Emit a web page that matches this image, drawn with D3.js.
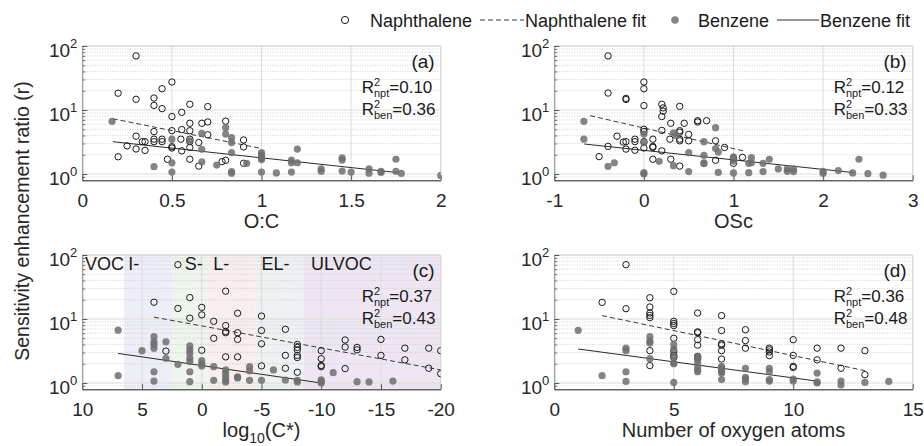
<!DOCTYPE html>
<html><head><meta charset="utf-8">
<script src="https://cdn.jsdelivr.net/npm/d3@7"></script>
<style>body{margin:0;background:#fff}</style>
</head><body><svg id="c" width="924" height="446"></svg>
<script>
// ---------------- DATA ----------------
const napOC = [[0.30,70],[0.20,18.3],[0.30,14.7],[0.445,21.5],[0.50,27.4],[0.40,15.4],[0.40,11.8],[0.445,10.5],[0.60,12.3],[0.70,11.3],[0.555,9.2],[0.50,7.9],[0.80,6.7],[0.60,6.2],[0.667,6.2],[0.70,6.5],[0.50,4.75],[0.555,4.95],[0.60,4.75],[0.40,4.6],[0.70,4.1],[0.30,3.9],[0.335,3.2],[0.35,3.2],[0.40,3.5],[0.40,3.2],[0.445,3.5],[0.445,3.2],[0.55,3.5],[0.60,3.5],[0.60,3.2],[0.65,3.1],[0.90,3.4],[0.90,2.65],[0.25,2.75],[0.30,2.46],[0.35,2.34],[0.50,2.67],[0.50,2.55],[0.60,2.6],[0.555,2.3],[0.20,1.86],[0.475,1.7],[0.60,1.7],[0.65,1.33],[0.78,1.56],[0.80,1.64],[0.90,1.47]];
const benOC = [[0.166,6.65],[0.40,1.3],[0.50,1.5],[0.50,1.07],[0.50,3.5],[0.60,3.3],[0.667,4.3],[0.667,2.43],[0.667,1.55],[0.75,1.38],[0.80,5.3],[0.80,4.2],[0.833,3.7],[0.833,3.1],[0.833,2.15],[0.833,1.09],[0.833,1.03],[0.917,1.47],[1.0,2.15],[1.0,2.0],[1.0,1.85],[1.0,1.75],[1.0,1.68],[1.0,1.07],[1.083,1.04],[1.167,1.65],[1.167,1.5],[1.167,1.07],[1.2,2.45],[1.2,1.5],[1.333,1.2],[1.333,1.1],[1.45,1.78],[1.45,1.65],[1.45,1.11],[1.5,1.07],[1.6,1.2],[1.6,1.03],[1.667,1.1],[1.667,1.06],[1.75,1.7],[1.75,1.1],[1.78,1.02],[2.0,0.95]];
const napOSc = [[-0.4,70],[-0.4,18.4],[-0.2,15.2],[-0.2,14.6],[0,27.4],[0,21.5],[0,11.7],[0.2,12.3],[0.215,10.8],[0.215,9.6],[0.2,7.9],[0.4,11.4],[0.6,6.8],[0.6,6.5],[0.7,6.8],[0.3,6.2],[0.45,6.2],[0.2,4.8],[0,5.0],[0,4.6],[0.4,4.75],[0.4,4.5],[0.5,4.15],[0.4,3.5],[0.4,3.3],[0.29,3.5],[0.5,3.3],[0.8,3.3],[-0.3,3.9],[-0.2,3.2],[-0.23,3.15],[-0.1,3.5],[-0.1,3.2],[0,3.2],[0.1,3.5],[0.1,2.7],[0.1,2.6],[0.2,2.3],[-0.4,2.7],[-0.2,2.45],[-0.1,2.35],[0,2.55],[0.9,2.6],[-0.5,1.87],[0.1,1.7],[0.3,1.7],[0.4,1.33],[0.8,1.64],[1.0,1.74],[1.0,1.47],[1.1,1.82]];
const benOSc = [[-0.67,6.65],[-0.67,3.5],[-0.4,1.32],[-0.33,1.5],[0,4.2],[0,3.1],[0,1.05],[0,1.0],[0.17,1.58],[0.33,1.35],[0.33,4.4],[0.36,4.0],[0.5,2.15],[0.5,1.09],[0.67,3.2],[0.67,1.95],[0.67,1.5],[0.67,1.45],[0.8,5.3],[0.8,2.5],[0.83,2.2],[0.83,1.06],[1.0,1.04],[1.0,1.86],[1.0,1.6],[1.17,1.47],[1.17,1.05],[1.2,1.8],[1.2,1.5],[1.33,1.47],[1.33,1.09],[1.4,1.7],[1.5,1.2],[1.6,1.2],[1.6,1.1],[1.67,1.2],[1.67,1.09],[2.0,1.1],[2.0,1.02],[2.17,1.13],[2.33,1.04],[2.4,1.7],[2.5,1.01],[2.67,0.96]];
const napLogC = [[2,70.6],[4,18.3],[2,14.6],[1,21.6],[0,15.2],[0,11.6],[1,10.3],[-1,9.2],[-2,27.2],[-2,7.9],[-2,6.4],[-2,6.1],[-3,12.3],[-3,6.1],[-3,4.8],[-5,11.1],[-5,6.6],[-5,4.1],[-7,6.9],[-1,5.0],[-2,2.56],[-3,2.56],[0,3.25],[3,3.15],[-5,1.85],[-7,2.7],[-7,1.7],[-8,4.0],[-8,3.6],[-8,3.3],[-8,2.7],[-8,2.5],[-8,1.47],[-10,3.2],[-10,2.4],[-10,1.88],[-10,1.8],[-12,4.7],[-12,3.65],[-12,1.68],[-13,3.6],[-13,3.3],[-15,4.8],[-15,2.7],[-17,3.5],[-17,2.3],[-19,3.5],[-19,1.7],[-20,3.2],[-20,1.4]];
const benLogC = [[7,6.7],[7,1.3],[5,3.2],[4,5.3],[4,4.4],[4,4.0],[4,3.5],[4,1.5],[4,1.07],[3,4.4],[3,2.43],[2,1.96],[1,3.8],[1,3.3],[1,2.9],[1,2.43],[1,2.15],[1,1.5],[1,1.05],[0,2.23],[0,2.0],[0,1.85],[-1,1.8],[-1,1.1],[-2,1.6],[-2,1.42],[-2,1.25],[-2,1.11],[-2,1.04],[-3,1.25],[-3,1.2],[-4,1.8],[-4,1.55],[-4,1.1],[-5,1.1],[-6,1.6],[-7,1.11],[-8,1.1],[-8,1.04],[-10,1.12],[-10,1.05],[-10,1.0],[-11,1.45],[-13,1.05],[-14,1.04],[-16,1.07]];
const napNO = [[3,70.6],[2,18.2],[3,14.5],[4,21.5],[4,15.4],[4,12.4],[4,11.4],[4,10.5],[5,27],[5,9.2],[5,8.5],[5,7.9],[5,5.0],[5,3.1],[5,2.7],[5,2.5],[4,3.2],[4,1.87],[6,12.4],[6,6.3],[6,6.1],[6,4.75],[6,3.9],[6,2.6],[6,2.45],[7,11.3],[7,6.6],[7,4.1],[7,3.9],[7,3.2],[7,2.37],[8,6.8],[8,4.6],[8,3.5],[9,3.5],[9,3.3],[9,3.05],[9,2.67],[10,4.75],[10,2.7],[10,1.82],[10,1.75],[11,3.5],[11,2.3],[12,3.5],[12,1.7],[13,3.2],[13,1.35]];
const benNO = [[1,6.65],[2,1.3],[3,3.5],[3,3.2],[3,1.5],[3,1.06],[4,5.3],[4,4.5],[4,4.2],[4,2.4],[5,4.0],[5,3.4],[5,2.6],[5,2.05],[5,2.0],[5,1.02],[6,2.6],[6,2.4],[6,2.1],[6,1.8],[6,1.6],[6,1.5],[7,1.82],[7,1.7],[7,1.6],[7,1.5],[7,1.43],[7,1.13],[8,1.7],[8,1.23],[8,1.15],[8,1.05],[9,1.7],[9,1.5],[9,1.13],[9,1.07],[10,1.15],[10,1.07],[11,1.43],[11,1.04],[11,1.0],[12,1.07],[12,0.93],[13,1.02],[14,1.06]];

// fit line end points [x0,x1],[y0,y1]
const napFitOC = [[0.17,1.0],[7.3,2.5]],   benFitOC = [[0.17,1.76],[3.2,1.05]];
const napFitOSc = [[-0.6,1.11],[8.15,2.3]], benFitOSc = [[-0.665,2.34],[2.94,1.05]];
const napFitLogC = [[4,-20],[10.7,1.6]],   benFitLogC = [[7,-10],[2.9,1.0]];
const napFitNO = [[2,13],[11.3,1.56]],     benFitNO = [[1,11],[3.4,1.07]];

const r2Npt = ["0.10","0.12","0.37","0.36"];
const r2Ben = ["0.36","0.33","0.43","0.48"];
const ticksOC = [0,0.5,1,1.5,2], ticksOSc = [-1,0,1,2,3], ticksLogC = [10,5,0,-5,-10,-15,-20], ticksNO = [0,5,10,15];
const yTicks = [1,10,100], yExp = ["0","1","2"];
const volNames = ["VOC","I-","S-","L-","EL-","ULVOC"];
const volFrom = [10,6.5,2.5,-0.5,-4.5,-8.5];
const volTo = [6.5,2.5,-0.5,-4.5,-8.5,-20];
const volLabelX = [9.78,6.15,1.42,-0.96,-5.0,-9.15];
const volColors = ["#ffffff","#edeef7","#edf5ec","#f8eeee","#eef1f2","#eee7f3"];
const legendNames = ["Naphthalene","Naphthalene fit","Benzene","Benzene fit"];

// ---------------- LAYOUT ----------------
const FONT = "'Liberation Sans', Arial, Helvetica, sans-serif";
const svg = d3.select("#c").attr("font-family", FONT);
const L1 = 82.3, R1 = 440.7, L2 = 554.3, R2 = 912.7;
const panels = [
  {tag:"(a)", nap:napOC, ben:benOC, nf:napFitOC, bf:benFitOC, dom:[0,2], ticks:ticksOC, l:L1, r:R1, t:46, title:"O:C", i:0},
  {tag:"(b)", nap:napOSc, ben:benOSc, nf:napFitOSc, bf:benFitOSc, dom:[-1,3], ticks:ticksOSc, l:L2, r:R2, t:46, title:"OSc", i:1},
  {tag:"(c)", nap:napLogC, ben:benLogC, nf:napFitLogC, bf:benFitLogC, dom:[10,-20], ticks:ticksLogC, l:L1, r:R1, t:255, title:"log10", i:2, bands:true},
  {tag:"(d)", nap:napNO, ben:benNO, nf:napFitNO, bf:benFitNO, dom:[0,15], ticks:ticksNO, l:L2, r:R2, t:255, title:"Number of oxygen atoms", i:3}
];
const minorVals = [];
[0.1,1,10].forEach(k=>{for(let m=2;m<=9;m++){const v=m*k; if(v>=0.8&&v<100) minorVals.push(v);}});

panels.forEach(p=>{
  const b = p.t + 64*Math.log10(100/0.8);
  const x = d3.scaleLinear().domain(p.dom).range([p.l,p.r]);
  const y = d3.scaleLog().domain([0.8,100]).range([b,p.t]);
  const g = svg.append("g");
  const cid = "clip"+p.i;
  svg.append("clipPath").attr("id",cid).append("rect").attr("x",p.l).attr("y",p.t).attr("width",p.r-p.l).attr("height",b-p.t);
  if(p.bands){
    volNames.forEach((n,j)=>{
      g.append("rect").attr("x",x(volFrom[j])).attr("y",p.t).attr("width",x(volTo[j])-x(volFrom[j])).attr("height",b-p.t).attr("fill",volColors[j]);
    });
  }
  // minor grid
  g.selectAll(".mg").data(minorVals).join("line").attr("x1",p.l).attr("x2",p.r)
    .attr("y1",d=>y(d)).attr("y2",d=>y(d)).attr("stroke","#c8c8c8").attr("stroke-width",0.8).attr("stroke-dasharray","1,1.5");
  // major grid
  g.selectAll(".hg").data(yTicks).join("line").attr("x1",p.l).attr("x2",p.r)
    .attr("y1",d=>y(d)).attr("y2",d=>y(d)).attr("stroke","#dcdcdc").attr("stroke-width",1);
  g.selectAll(".vg").data(p.ticks).join("line").attr("y1",p.t).attr("y2",b)
    .attr("x1",d=>x(d)).attr("x2",d=>x(d)).attr("stroke","#dcdcdc").attr("stroke-width",1);
  // top/right border
  g.append("path").attr("d",`M${p.l},${p.t}H${p.r}V${b}`).attr("fill","none").attr("stroke","#d6d6d6");
  // left axis
  const la = g.append("g").attr("transform",`translate(${p.l},0)`)
    .call(d3.axisLeft(y).tickValues(yTicks).tickSize(-5).tickSizeOuter(0).tickFormat(""));
  la.select(".domain").attr("stroke","#8a8a8a");
  la.selectAll(".tick line").attr("stroke","#555");
  const lm = g.append("g").attr("transform",`translate(${p.l},0)`)
    .call(d3.axisLeft(y).tickValues(minorVals).tickSize(-3).tickSizeOuter(0).tickFormat(""));
  lm.select(".domain").remove();
  lm.selectAll(".tick line").attr("stroke","#777");
  yTicks.forEach((v,j)=>{
    const t = g.append("text").attr("x",p.l-5).attr("y",y(v)+11).attr("text-anchor","end").attr("font-size",19).attr("fill","#262626");
    t.append("tspan").text("10");
    t.append("tspan").attr("dy",-9).attr("font-size",13).text(yExp[j]);
  });
  // bottom axis
  const ba = g.append("g").attr("transform",`translate(0,${b})`)
    .call(d3.axisBottom(x).tickValues(p.ticks).tickSize(-5).tickSizeOuter(0).tickPadding(13).tickFormat(d=>String(d)));
  ba.select(".domain").attr("stroke","#666").attr("stroke-width",1.6);
  ba.selectAll(".tick line").attr("stroke","#555");
  ba.selectAll(".tick text").attr("font-size",19).attr("fill","#262626").attr("font-family",FONT);
  // axis title
  const tt = g.append("text").attr("x",(p.l+p.r)/2).attr("y",b+48).attr("text-anchor","middle").attr("font-size",20).attr("fill","#262626");
  if(p.title==="log10"){
    tt.append("tspan").text("log");
    tt.append("tspan").attr("dy",6).attr("font-size",14).text("10");
    tt.append("tspan").attr("dy",-6).text("(C*)");
  } else tt.text(p.title);
  // band labels
  if(p.bands){
    volNames.forEach((n,j)=>{
      g.append("text").attr("x",x(volLabelX[j])).attr("y",p.t+15).attr("font-size",18).attr("fill","#1a1a1a").text(n);
    });
  }
  // data
  const pg = g.append("g").attr("clip-path",`url(#${cid})`);
  const line = d3.line().x(d=>x(d[0])).y(d=>y(d[1]));
  pg.append("path").attr("d",line(p.nf[0].map((v,k)=>[v,p.nf[1][k]]))).attr("fill","none").attr("stroke","#3a3a3a").attr("stroke-width",1).attr("stroke-dasharray","5,3");
  pg.append("path").attr("d",line(p.bf[0].map((v,k)=>[v,p.bf[1][k]]))).attr("fill","none").attr("stroke","#2a2a2a").attr("stroke-width",1);
  pg.selectAll(".n").data(p.nap).join("circle").attr("cx",d=>x(d[0])).attr("cy",d=>y(d[1])).attr("r",3.2)
    .attr("fill","none").attr("stroke","#1a1a1a").attr("stroke-width",1);
  pg.selectAll(".bz").data(p.ben).join("circle").attr("cx",d=>x(d[0])).attr("cy",d=>y(d[1])).attr("r",3.6)
    .attr("fill","#6e6e6e").attr("fill-opacity",0.85);
  // tag + R2
  g.append("text").attr("x",p.r-6).attr("y",p.t+22).attr("text-anchor","end").attr("font-size",19).attr("fill","#1a1a1a").text(p.tag);
  [[ "npt", r2Npt[p.i], 47],[ "ben", r2Ben[p.i], 69]].forEach(([s,val,dy])=>{
    const t = g.append("text").attr("x",p.r-79).attr("y",p.t+dy).attr("font-size",17).attr("fill","#1a1a1a");
    t.append("tspan").text("R");
    t.append("tspan").attr("dy",-7).attr("font-size",11).text("2");
    t.append("tspan").attr("dx",-6.1).attr("dy",11).attr("font-size",11).text(s);
    t.append("tspan").attr("dy",-4).text("="+val);
  });
});

// y-axis label
svg.append("text").attr("transform","translate(29,221) rotate(-90)").attr("text-anchor","middle")
  .attr("font-size",19.5).attr("fill","#262626").text("Sensitivity enhancement ratio (r)");

// legend
const lg = svg.append("g").attr("font-size",18).attr("fill","#1a1a1a");
lg.append("circle").attr("cx",345).attr("cy",20).attr("r",3.6).attr("fill","none").attr("stroke","#1a1a1a");
lg.append("text").attr("x",370).attr("y",26.5).text(legendNames[0]);
lg.append("line").attr("x1",480).attr("x2",524).attr("y1",20).attr("y2",20).attr("stroke","#3a3a3a").attr("stroke-dasharray","5,3");
lg.append("text").attr("x",525).attr("y",26.5).text(legendNames[1]);
lg.append("circle").attr("cx",675).attr("cy",20).attr("r",3.8).attr("fill","#6e6e6e").attr("fill-opacity",0.85);
lg.append("text").attr("x",698).attr("y",26.5).text(legendNames[2]);
lg.append("line").attr("x1",777).attr("x2",819).attr("y1",20).attr("y2",20).attr("stroke","#2a2a2a");
lg.append("text").attr("x",820).attr("y",26.5).text(legendNames[3]);
</script></body></html>
